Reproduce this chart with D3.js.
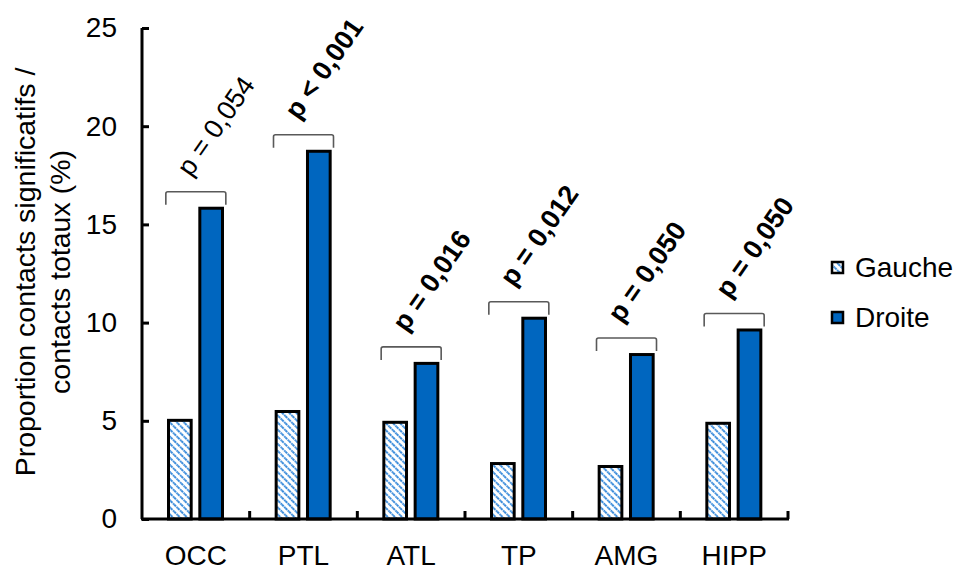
<!DOCTYPE html>
<html>
<head>
<meta charset="utf-8">
<script src="https://cdn.jsdelivr.net/npm/d3@7"></script>
<style>
  html, body { margin: 0; padding: 0; background: #fff; }
  svg { display: block; font-family: "Liberation Sans", Arial, sans-serif; }
</style>
</head>
<body>
<svg id="chart" width="959" height="570"></svg>
<script>
const categories = ["OCC", "PTL", "ATL", "TP", "AMG", "HIPP"];
const seriesNames = ["Gauche", "Droite"];
const gauche = [5.1, 5.55, 5.0, 2.9, 2.75, 4.95];
const droite = [15.9, 18.8, 8.0, 10.3, 8.45, 9.7];
const pLabels = ["p = 0,054", "p < 0,001", "p = 0,016", "p = 0,012", "p = 0,050", "p = 0,050"];
const pBold = [false, true, true, true, true, true];
const yTicks = [0, 5, 10, 15, 20, 25];
const yTitle = ["Proportion contacts significatifs /", "contacts totaux (%)"];

const svg = d3.select("#chart");
const blue = "#0066BF";
const hatchBlue = "#3d8ddb";

const defs = svg.append("defs");
const pat = defs.append("pattern")
  .attr("id", "hatch")
  .attr("patternUnits", "userSpaceOnUse")
  .attr("width", 5).attr("height", 5)
  .attr("patternTransform", "rotate(-45)");
pat.append("rect").attr("width", 5).attr("height", 5).attr("fill", "#fff");
pat.append("line").attr("x1", 1).attr("y1", 0).attr("x2", 1).attr("y2", 5)
  .attr("stroke", hatchBlue).attr("stroke-width", 2).attr("stroke-dasharray", "2,0.8");

const x0 = d3.scaleBand().domain(categories).range([142, 788]).paddingInner(0).paddingOuter(0);
const x1 = d3.scaleBand().domain(seriesNames).range([25, 82]).paddingInner(0.18);
const y = d3.scaleLinear().domain([0, 25]).range([519, 28]);

const data = categories.map((c, i) => ({ cat: c, vals: [gauche[i], droite[i]] }));

// bars
const groups = svg.append("g").selectAll("g").data(data).join("g")
  .attr("transform", d => `translate(${x0(d.cat)},0)`);
groups.selectAll("rect").data(d => d.vals.map((v, j) => ({ s: seriesNames[j], v })))
  .join("rect")
  .attr("x", d => x1(d.s) + 1.5)
  .attr("width", x1.bandwidth() - 3)
  .attr("y", d => y(d.v) + 1.5)
  .attr("height", d => y(0) - y(d.v) - 1.5)
  .attr("fill", d => d.s === "Gauche" ? "url(#hatch)" : blue)
  .attr("stroke", "#000").attr("stroke-width", 3);

// axes
const yAxis = d3.axisLeft(y).tickValues(yTicks).tickSize(-7).tickPadding(25);
const gy = svg.append("g").attr("transform", "translate(142,0)").call(yAxis);
gy.select(".domain").attr("stroke", "#000").attr("stroke-width", 3)
  .attr("d", `M0,${y(25)}V${y(0)}`);
gy.selectAll(".tick line").attr("stroke", "#000").attr("stroke-width", 3);
gy.selectAll(".tick text").attr("font-size", 28).attr("fill", "#000")
  .attr("font-family", "Liberation Sans, Arial, sans-serif");

const bounds = categories.map(c => x0(c) + x0.bandwidth());
const gx = svg.append("g").attr("transform", `translate(0,${y(0)})`);
gx.append("line").attr("x1", 141).attr("x2", 789).attr("y1", 0).attr("y2", 0)
  .attr("stroke", "#000").attr("stroke-width", 3);
gx.selectAll("line.tk").data(bounds).join("line").attr("class", "tk")
  .attr("x1", d => d).attr("x2", d => d).attr("y1", 0).attr("y2", -8)
  .attr("stroke", "#000").attr("stroke-width", 3);
gx.selectAll("text").data(categories).join("text")
  .attr("x", d => x0(d) + x0.bandwidth() / 2)
  .attr("y", 46)
  .attr("text-anchor", "middle")
  .attr("font-size", 28).attr("fill", "#000")
  .text(d => d);

// y title
const title = svg.append("text")
  .attr("transform", "translate(35,272) rotate(-90)")
  .attr("text-anchor", "middle")
  .attr("font-size", 28.5).attr("fill", "#000");
title.append("tspan").attr("x", 0).attr("dy", 0).text(yTitle[0]);
title.append("tspan").attr("x", 0).attr("dy", 35).text(yTitle[1]);

// brackets and p-values
const ann = svg.append("g");
data.forEach((d, i) => {
  const cx = x0(d.cat) + x0.bandwidth() / 2;
  const top = y(d.vals[1]) - 15;
  const legs = y(d.vals[1]) - 2;
  ann.append("path")
    .attr("d", `M${cx - 30},${legs}V${top + 2}Q${cx - 30},${top} ${cx - 28},${top}H${cx + 28}Q${cx + 30},${top} ${cx + 30},${top + 2}V${legs}`)
    .attr("fill", "none").attr("stroke", "#595959").attr("stroke-width", 1.6);
  ann.append("text")
    .attr("transform", `translate(${cx - 5},${top - 14}) rotate(-55)`)
    .attr("font-size", 27)
    .attr("font-weight", pBold[i] ? "bold" : "normal")
    .attr("fill", "#000")
    .text(pLabels[i]);
});

// legend
const legend = svg.append("g");
seriesNames.forEach((s, j) => {
  const ly = 268 + j * 50;
  legend.append("rect")
    .attr("x", 832).attr("y", ly - 6).attr("width", 11).attr("height", 11)
    .attr("fill", s === "Gauche" ? "url(#hatch)" : blue)
    .attr("stroke", "#000").attr("stroke-width", 2.5);
  legend.append("text")
    .attr("x", 855).attr("y", ly + 9)
    .attr("font-size", 28).attr("fill", "#000")
    .text(s);
});
</script>
</body>
</html>
